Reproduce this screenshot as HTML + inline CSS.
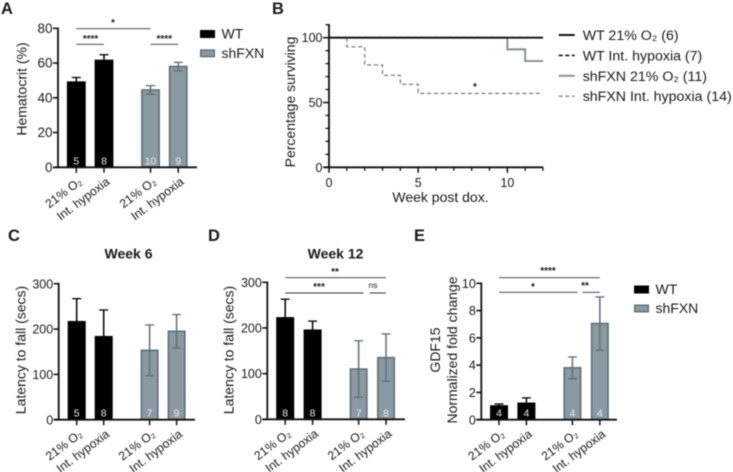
<!DOCTYPE html>
<html>
<head>
<meta charset="utf-8">
<title>Hematocrit, survival, latency and GDF15 panels</title>
<style>
html,body{margin:0;padding:0;background:#fff;width:733px;height:472px;overflow:hidden}
svg{display:block;filter:blur(0.4px)}
text{font-family:"Liberation Sans","DejaVu Sans",sans-serif;fill:#1a1a1a}
</style>
</head>
<body>
<svg id="figure" xmlns="http://www.w3.org/2000/svg" width="733" height="472" viewBox="0 0 733 472"></svg>
<script>
const groupLabels = ['21% O₂', 'Int. hypoxia', '21% O₂', 'Int. hypoxia'];

const hematocritMeans = [49, 61.5, 44.5, 58];
const hematocritErrors = [2.7, 3.3, 2.5, 2.4];
const hematocritCounts = ['5', '8', '10', '9'];
const hematocritTicks = [0, 20, 40, 60, 80];

const week6Means = [216, 183, 153, 195];
const week6Errors = [51, 59, 56, 37];
const week6Counts = ['5', '8', '7', '9'];
const latencyTicks = [0, 100, 200, 300];

const week12Means = [222, 195, 110, 135];
const week12Errors = [41, 20, 62, 52];
const week12Counts = ['8', '8', '7', '8'];

const gdf15Means = [1.0, 1.2, 3.8, 7.05];
const gdf15Errors = [0.15, 0.4, 0.8, 1.95];
const gdf15Counts = ['4', '4', '4', '4'];
const gdf15Ticks = [0, 2, 4, 6, 8, 10];

const wt21Weeks = [0, 12];
const wt21Survival = [100, 100];
const wtHypoxiaWeeks = [0, 12];
const wtHypoxiaSurvival = [100, 100];
const shfxn21Weeks = [0, 10, 11, 12];
const shfxn21Survival = [100, 91, 82, 82];
const shfxnHypoxiaWeeks = [1, 2, 3, 4, 5, 12];
const shfxnHypoxiaSurvival = [93, 79, 71, 64, 57, 57];
const survivalYTicks = [0, 50, 100];
const survivalYMinor = [10, 20, 30, 40, 60, 70, 80, 90, 110];
const survivalXTicks = [0, 5, 10];
const survivalXMinor = [1, 2, 3, 4, 6, 7, 8, 9, 11, 12];
const survivalLegend = ['WT 21% O₂ (6)', 'WT Int. hypoxia (7)', 'shFXN 21% O₂ (11)', 'shFXN Int. hypoxia (14)'];

const NS = 'http://www.w3.org/2000/svg';
const fig = document.getElementById('figure');
const BLACK = '#000000', GREY = '#8a9aa2', GREY_EDGE = '#5f6f77';

function el(tag, attrs, parent, text) {
  const e = document.createElementNS(NS, tag);
  for (const k in attrs) e.setAttribute(k, attrs[k]);
  if (text !== undefined) e.textContent = text;
  (parent || fig).appendChild(e);
  return e;
}
function line(x1, y1, x2, y2, color, w, parent, dash) {
  const l = el('line', {x1: x1, y1: y1, x2: x2, y2: y2, stroke: color, 'stroke-width': w}, parent);
  if (dash) l.setAttribute('stroke-dasharray', dash);
  
  return l;
}
function panelLetter(t, x, y) {
  const e = el('text', {x: x, y: y, 'font-size': 16.5, 'font-weight': 'bold', fill: '#000'}, fig, t);
  
  
}
function swatch(x, y, color, edge, label, name) {
  const g = el('g', {});
  
  
  el('rect', {x: x + 0.7, y: y + 0.7, width: 13.6, height: 6.6, fill: color, stroke: edge, 'stroke-width': 1.4}, g);
  el('text', {x: x + 21.5, y: y + 8.5, 'font-size': 14}, g, label);
}
function bracket(x1, x2, y, parent, name) {
  const l = line(x1, y, x2, y, '#333', 0.9, parent);
  
}
function sig(t, x, y, parent, size) {
  const e = el('text', {x: x, y: y, 'font-size': size || 10, 'font-weight': t === 'ns' ? 'normal' : 'bold', 'text-anchor': 'middle'}, parent, t);
  
  
}

function barChart(o) {
  const g = el('g', {});
  
  
  const yScale = v => o.y0 - (v - 0) * (o.y0 - o.yTop) / o.yMax;
  const xScale = i => o.x0 + o.step * (i + (i >= 2 ? o.gap : 0));
  const bw = o.barWidth;

  o.means.forEach((m, i) => {
    const c = xScale(i), top = yScale(m), hi = yScale(m + o.errors[i]), lo = yScale(m - o.errors[i]);
    const isWt = i < 2, edge = isWt ? BLACK : GREY_EDGE, fill = isWt ? BLACK : GREY;
    const bar = el('rect', {x: c - bw / 2 + 0.8, y: top, width: bw - 1.6, height: o.y0 - top, fill: fill, stroke: edge, 'stroke-width': 1.6}, g);
    
    
    const eb = el('g', {}, g);
    
    
    line(c, hi, c, lo, edge, 1.5, eb);
    line(c - 4.5, hi, c + 4.5, hi, edge, 1.3, eb);
    line(c - 4.5, lo, c + 4.5, lo, edge, 1.3, eb);
    const n = el('text', {x: c, y: o.y0 - 3, 'font-size': 10.5, 'text-anchor': 'middle', style: 'fill:#e8eef0'}, g, o.counts[i]);
    
    
    const tk = line(c, o.y0, c, o.y0 + 5.5, '#111', 1.5, g);
    
    const lx = c + 6.5, ly = o.y0 + 16;
    const lab = el('text', {x: lx, y: ly, 'font-size': 12.2, 'text-anchor': 'end', transform: 'rotate(-37 ' + lx + ' ' + ly + ')'}, g, groupLabels[i]);
    
    
  });

  const ya = line(o.axisX, yScale(o.yMax) - 0.8, o.axisX, o.y0 + 0.8, '#111', 1.8, g);
  
  const xa = line(o.axisX - 5, o.y0, o.axisEnd, o.y0, '#111', 1.8, g);
  
  o.ticks.forEach(t => {
    const y = yScale(t);
    const tk = line(o.axisX - 5, y, o.axisX, y, '#111', 1.6, g);
    
    const lb = el('text', {x: o.axisX - 5.5, y: y + 4.6, 'font-size': o.tickSize, 'text-anchor': 'end'}, g, String(t));
    
    
  });
  o.yTitle.forEach((t, idx) => {
    const tx = o.titleX[idx], ty = o.titleY;
    const title = el('text', {x: tx, y: ty, 'font-size': 14, 'text-anchor': 'middle', transform: 'rotate(-90 ' + tx + ' ' + ty + ')'}, g, t);
    
    
  });
  return {g: g, x: xScale};
}

panelLetter('A', 1, 14);
panelLetter('B', 272, 14);
panelLetter('C', 8, 241);
panelLetter('D', 208, 241);
panelLetter('E', 414, 241);

const a = barChart({
  name: 'hematocrit-chart', means: hematocritMeans, errors: hematocritErrors, counts: hematocritCounts, ticks: hematocritTicks, tickSize: 13.5,
  y0: 167.3, yTop: 28.3, yMax: 80, x0: 76.3, step: 27.7, gap: 0.68, barWidth: 18.8,
  axisX: 58, axisEnd: 197, yTitle: ['Hematocrit (%)'], titleX: [26.5], titleY: 89
});
bracket(a.x(0), a.x(2), 28.7, a.g, 'significance-bracket-top');
bracket(a.x(0), a.x(1), 44.3, a.g, 'significance-bracket-wt');
bracket(a.x(2), a.x(3), 44.3, a.g, 'significance-bracket-shfxn');
sig('*', 113, 26, a.g);
sig('****', 90.5, 42, a.g);
sig('****', 164.3, 42, a.g);
swatch(200, 30, BLACK, BLACK, 'WT', 'legend-entry-wt-a');
swatch(200, 49.3, GREY, GREY_EDGE, 'shFXN', 'legend-entry-shfxn-a');

const c = barChart({
  name: 'week-6-chart', means: week6Means, errors: week6Errors, counts: week6Counts, ticks: latencyTicks, tickSize: 12.5,
  y0: 419.7, yTop: 283.7, yMax: 300, x0: 76.7, step: 27, gap: 0.7, barWidth: 18,
  axisX: 58.7, axisEnd: 195, yTitle: ['Latency to fall (secs)'], titleX: [25.5], titleY: 350
});
const cTitle = el('text', {x: 128.5, y: 258.5, 'font-size': 14, 'font-weight': 'bold', 'text-anchor': 'middle'}, c.g, 'Week 6');



const d = barChart({
  name: 'week-12-chart', means: week12Means, errors: week12Errors, counts: week12Counts, ticks: latencyTicks, tickSize: 12.5,
  y0: 419.3, yTop: 282.3, yMax: 300, x0: 285.2, step: 27.4, gap: 0.68, barWidth: 18,
  axisX: 267.3, axisEnd: 405, yTitle: ['Latency to fall (secs)'], titleX: [233.5], titleY: 350
});
const dTitle = el('text', {x: 335.5, y: 258.5, 'font-size': 14, 'font-weight': 'bold', 'text-anchor': 'middle'}, d.g, 'Week 12');


bracket(d.x(0), d.x(3), 277.7, d.g, 'significance-bracket-top');
bracket(d.x(0), d.x(2) + 5, 293, d.g, 'significance-bracket-left');
bracket(d.x(2) + 11, d.x(3), 293, d.g, 'significance-bracket-right');
sig('**', 335, 275, d.g);
sig('***', 319, 290, d.g);
sig('ns', 373, 288, d.g, 8.5);

const e = barChart({
  name: 'gdf15-chart', means: gdf15Means, errors: gdf15Errors, counts: gdf15Counts, ticks: gdf15Ticks, tickSize: 12.5,
  y0: 419.7, yTop: 283.3, yMax: 10, x0: 499, step: 27.4, gap: 0.68, barWidth: 18,
  axisX: 481.3, axisEnd: 617, yTitle: ['GDF15', 'Normalized fold change'], titleX: [440, 457], titleY: 350
});
bracket(e.x(0), e.x(3), 277.7, e.g, 'significance-bracket-top');
bracket(e.x(0), e.x(2) + 5, 292.3, e.g, 'significance-bracket-left');
bracket(e.x(2) + 10, e.x(3), 292.3, e.g, 'significance-bracket-right');
sig('****', 548, 274, e.g);
sig('*', 533, 290, e.g);
sig('**', 585, 289, e.g);
swatch(634, 285.5, BLACK, BLACK, 'WT', 'legend-entry-wt-e');
swatch(634, 304.5, GREY, GREY_EDGE, 'shFXN', 'legend-entry-shfxn-e');

/* Panel B survival chart */
const b = el('g', {});


const sx = w => 329 + w * (543 - 329) / 12;
const sy = p => 167.3 - p * (167.3 - 37.7) / 100;
function steps(ws, ps) {
  let d = 'M' + sx(ws[0]) + ' ' + sy(ps[0]);
  for (let i = 1; i < ws.length; i++) d += ' H' + sx(ws[i]) + ' V' + sy(ps[i]);
  return d;
}
const survivalSeries = [
  {w: shfxnHypoxiaWeeks, p: shfxnHypoxiaSurvival, c: GREY_EDGE, sw: 1.1, dash: '4 2.8', n: 'series-shfxn-hypoxia', lead: true},
  {w: shfxn21Weeks, p: shfxn21Survival, c: '#7d8f98', sw: 1.9, n: 'series-shfxn-21-o2'},
  {w: wtHypoxiaWeeks, p: wtHypoxiaSurvival, c: '#000', sw: 1.6, dash: '4 3', n: 'series-wt-hypoxia'},
  {w: wt21Weeks, p: wt21Survival, c: '#111', sw: 1.9, n: 'series-wt-21-o2'}
];
survivalSeries.forEach(s => {
  let dPath = steps(s.w, s.p);
  if (s.lead) dPath = 'M' + sx(s.w[0]) + ' ' + sy(100) + ' V' + sy(s.p[0]) + dPath.replace(/^M\S+ \S+/, '');
  const path = el('path', {d: dPath, fill: 'none', stroke: s.c, 'stroke-width': s.sw}, b);
  if (s.dash) path.setAttribute('stroke-dasharray', s.dash);
  
  
});
const by = line(sx(0), sy(110.6), sx(0), sy(0) + 0.8, '#111', 1.8, b);

const bx = line(sx(0) - 5, sy(0), sx(12), sy(0), '#111', 1.8, b);

survivalYTicks.forEach(t => {
  const tk = line(sx(0) - 6, sy(t), sx(0), sy(t), '#111', 1.5, b);
  
  const lb = el('text', {x: sx(0) - 6.5, y: sy(t) + 4.5, 'font-size': 12.5, 'text-anchor': 'end'}, b, String(t));
  
  
});
survivalYMinor.forEach(t => {
  const tk = line(sx(0) - 3.5, sy(t), sx(0), sy(t), '#111', 1.3, b);
  
});
survivalXTicks.forEach(t => {
  const tk = line(sx(t), sy(0), sx(t), sy(0) + 5.5, '#111', 1.5, b);
  
  const lb = el('text', {x: sx(t), y: 187, 'font-size': 12.5, 'text-anchor': 'middle'}, b, String(t));
  
  
});
survivalXMinor.forEach(t => {
  const tk = line(sx(t), sy(0), sx(t), sy(0) + 3.5, '#111', 1.3, b);
  
});
const bt = el('text', {x: 440.5, y: 202, 'font-size': 14, 'text-anchor': 'middle'}, b, 'Week post dox.');


const byt = el('text', {x: 295, y: 102, 'font-size': 14, 'text-anchor': 'middle', transform: 'rotate(-90 295 102)'}, b, 'Percentage surviving');


sig('*', 475, 90, b);
const legendStyles = [
  {c: '#111', sw: 1.9},
  {c: '#111', sw: 1.6, dash: '4 2.6'},
  {c: '#7d8f98', sw: 1.9},
  {c: GREY_EDGE, sw: 1.1, dash: '4 2.6'}
];
survivalLegend.forEach((t, i) => {
  const y = 35 + i * 20.4;
  const g = el('g', {}, b);
  
  
  line(558.7, y, 574.7, y, legendStyles[i].c, legendStyles[i].sw, g, legendStyles[i].dash);
  el('text', {x: 582.7, y: y + 5, 'font-size': 14.2}, g, t);
});
</script>
</body>
</html>
